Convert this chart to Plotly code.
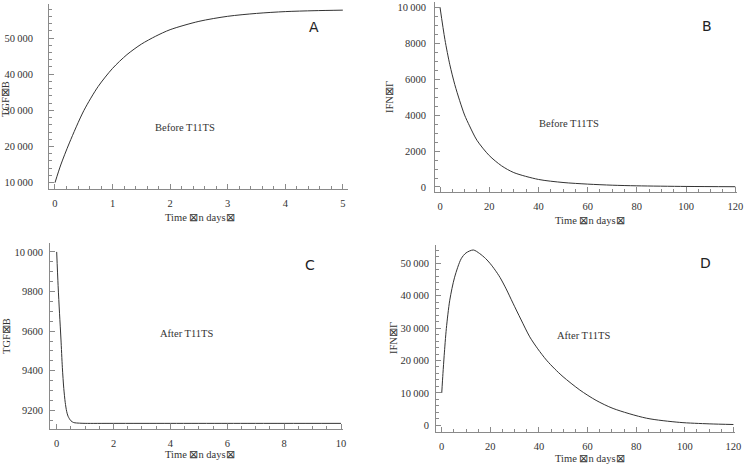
import plotly.graph_objects as go

W, H = 745, 466

# ---- Data ----
tA = [0, 0.1, 0.25, 0.5, 0.75, 1, 1.25, 1.5, 1.75, 2, 2.5, 3, 3.5, 4, 4.5, 5]
tgf_before = [10000, 14900, 21000, 29900, 36600, 41600, 45400, 48300, 50500, 52300,
              54600, 56000, 56800, 57300, 57550, 57700]

tB = [0, 2, 4, 6, 8, 10, 12, 15, 20, 25, 30, 40, 50, 60, 70, 80, 100, 120]
ifn_before = [10000, 8200, 6800, 5700, 4800, 4000, 3400, 2600, 1750, 1180, 800, 420,
              250, 160, 100, 65, 30, 15]

tC = [0, 0.05, 0.1, 0.15, 0.2, 0.25, 0.3, 0.35, 0.4, 0.5, 0.6, 0.8, 1, 2, 4, 6, 8, 10]
tgf_after = [10000, 9830, 9690, 9560, 9415, 9310, 9240, 9195, 9170, 9147, 9138, 9135,
             9134, 9134, 9134, 9134, 9134, 9134]

tD = [0, 0.5, 1, 1.9, 3.3, 5.3, 8, 10, 13, 15.6, 18, 20, 22, 24, 26.5, 29.3, 32.5,
      36.2, 39.5, 43.1, 46.5, 49.9, 56.8, 63.5, 70.5, 84.2, 97.9, 110, 120]
ifn_after = [10000, 16000, 21500, 29900, 38600, 45700, 51400, 53200, 54100, 53000,
             51500, 49850, 47870, 45600, 42100, 37700, 32800, 27300, 23600, 20100,
             17400, 15000, 10900, 7700, 5200, 2200, 900, 450, 250]

yticksA = [10000, 20000, 30000, 40000, 50000]
yticklabA = ["10\u2009000", "20\u2009000", "30\u2009000", "40\u2009000", "50\u2009000"]
yticksB = [0, 2000, 4000, 6000, 8000, 10000]
yticklabB = ["0", "2000", "4000", "6000", "8000", "10\u2009000"]
yticksC = [9200, 9400, 9600, 9800, 10000]
yticklabC = ["9200", "9400", "9600", "9800", "10\u2009000"]
yticksD = [0, 10000, 20000, 30000, 40000, 50000]
yticklabD = ["0", "10\u2009000", "20\u2009000", "30\u2009000", "40\u2009000", "50\u2009000"]
xticksA = [0, 1, 2, 3, 4, 5]
xticksB = [0, 20, 40, 60, 80, 100, 120]
xticksC = [0, 2, 4, 6, 8, 10]
xticksD = [0, 20, 40, 60, 80, 100, 120]

ylabel_tgf = "TGF\u22a0B"
ylabel_ifn = "IFN\u22a0\u0393"
xlabel = "Time \u22a0n days\u22a0"

# ---- Layout ----
panels = [
    dict(x=tA, y=tgf_before, l=49, r=348, t=4, b=189, xr=[-0.104, 5.09], yr=[8258, 59400],
         xt=xticksA, yt=yticksA, ytl=yticklabA, xm=0.2, ym=2000, yl=ylabel_tgf,
         note="Before T11TS", letter="A", ysd=13),
    dict(x=tB, y=ifn_before, l=435, r=737, t=2, b=192, xr=[-2.03, 120.7], yr=[-279, 10290],
         xt=xticksB, yt=yticksB, ytl=yticklabB, xm=5, ym=500, yl=ylabel_ifn,
         note="Before T11TS", letter="B", ysd=6),
    dict(x=tC, y=tgf_after, l=50, r=343, t=243, b=429, xr=[-0.235, 10.07], yr=[9105.5, 10045],
         xt=xticksC, yt=yticksC, ytl=yticklabC, xm=0.5, ym=50, yl=ylabel_tgf,
         note="After T11TS", letter="C", ysd=4),
    dict(x=tD, y=ifn_after, l=436, r=735, t=245, b=432, xr=[-2.36, 120.65], yr=[-2064, 55640],
         xt=xticksD, yt=yticksD, ytl=yticklabD, xm=5, ym=2000, yl=ylabel_ifn,
         note="After T11TS", letter="D", ysd=4),
]

note_pos = [(185, 127), (569, 123), (187, 333), (584, 335)]
letter_pos = [(314, 27), (707, 26), (310, 265), (705, 263)]
ylabel_pos = [(6, 99), (389, 97), (6, 336), (393, 338)]
xlabel_pos = [(200, 217), (590, 220), (200, 454), (590, 458)]

fig = go.Figure()
axis_col = "#8a8a8a"
tick_font = dict(family="Liberation Serif, Times New Roman, serif", size=10.5, color="#333")
annotations = []


def ann(x, y, text, font, angle=0):
    return dict(x=x / W, y=1 - y / H, xref="paper", yref="paper", text=text,
                showarrow=False, xanchor="center", yanchor="middle",
                textangle=angle, font=font)


serif = dict(family="Liberation Serif, serif", size=10.5, color="#333")
sans = dict(family="DejaVu Sans, sans-serif", size=14, color="#222")

for i, p in enumerate(panels):
    n = "" if i == 0 else str(i + 1)
    fig.add_trace(go.Scatter(x=p["x"], y=p["y"], mode="lines",
                             line=dict(color="#333333", width=1, shape="spline", smoothing=0.8),
                             xaxis="x" + n, yaxis="y" + n, showlegend=False,
                             hoverinfo="skip"))
    common = dict(showline=True, linecolor=axis_col, linewidth=1, showgrid=False,
                  zeroline=False, ticks="inside", ticklen=5, tickcolor=axis_col,
                  tickwidth=1, tickfont=tick_font, automargin=False)
    fig.layout["xaxis" + n] = dict(
        domain=[p["l"] / W, p["r"] / W], range=p["xr"], anchor="y" + n,
        tickmode="array", tickvals=p["xt"], ticklabelstandoff=4,
        minor=dict(dtick=p["xm"], tick0=0, ticks="inside", ticklen=3, tickcolor=axis_col,
                   showgrid=False),
        **common)
    fig.layout["yaxis" + n] = dict(
        domain=[1 - p["b"] / H, 1 - p["t"] / H], range=p["yr"], anchor="x" + n,
        tickmode="array", tickvals=p["yt"], ticktext=p["ytl"], ticklabelstandoff=p["ysd"],
        minor=dict(dtick=p["ym"], tick0=0, ticks="inside", ticklen=3, tickcolor=axis_col,
                   showgrid=False),
        **common)
    annotations.append(ann(*note_pos[i], p["note"], serif))
    annotations.append(ann(*letter_pos[i], p["letter"], sans))
    annotations.append(ann(*ylabel_pos[i], p["yl"], serif, -90))
    annotations.append(ann(*xlabel_pos[i], xlabel, serif))

fig.update_layout(width=W, height=H, margin=dict(l=0, r=0, t=0, b=0),
                  paper_bgcolor="white", plot_bgcolor="white",
                  annotations=annotations)

fig.write_html("out.html", config={"displayModeBar": False},
               post_script="document.body.style.margin='0';document.body.style.padding='0';")
